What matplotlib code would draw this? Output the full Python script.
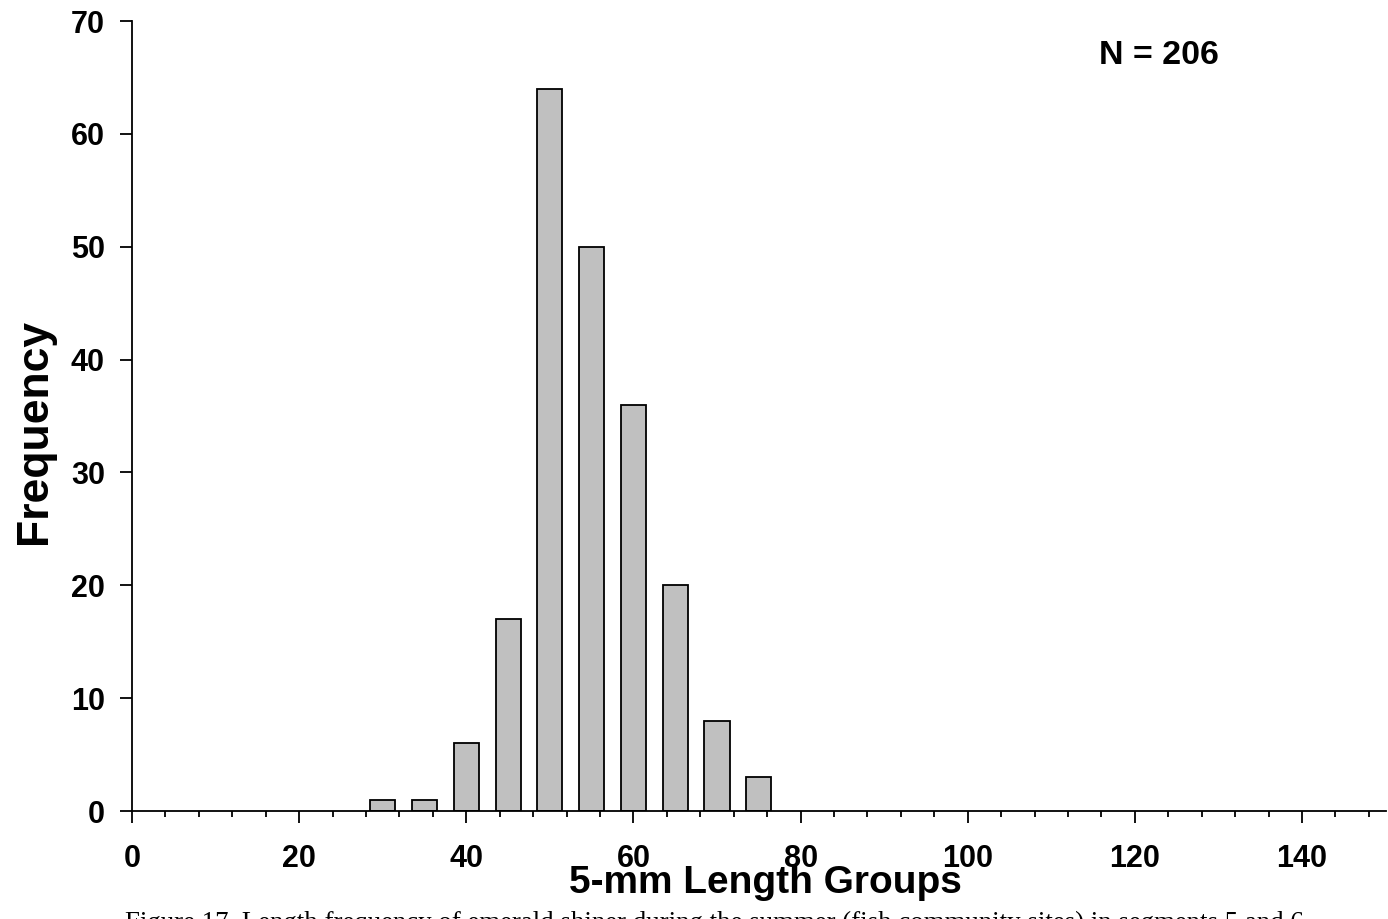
import matplotlib
matplotlib.use("Agg")
import matplotlib.pyplot as plt
from matplotlib.ticker import MultipleLocator

# 5-mm length groups (mm) and fish counts
length_groups = [30, 35, 40, 45, 50, 55, 60, 65, 70, 75]
frequency = [1, 1, 6, 17, 64, 50, 36, 20, 8, 3]
x_ticks = [0, 20, 40, 60, 80, 100, 120, 140]
y_ticks = [0, 10, 20, 30, 40, 50, 60, 70]
n_label = "N = 206"
caption = ("Figure 17. Length frequency of emerald shiner during the summer "
           "(fish community sites) in segments 5 and 6.")

plt.rcParams["font.family"] = ["Liberation Sans", "DejaVu Sans"]

fig = plt.figure(figsize=(13.88, 9.19), dpi=100)
ax = fig.add_axes([0.0951, 0.1175, 0.9032, 0.8596])

ax.bar(length_groups, frequency, width=3, color="#C0C0C0",
       edgecolor="black", linewidth=1.3, zorder=2)

ax.set_xlim(0, 150)
ax.set_ylim(0, 70)
ax.set_xticks(x_ticks)
ax.set_yticks(y_ticks)
ax.xaxis.set_minor_locator(MultipleLocator(4))

for side in ("top", "right"):
    ax.spines[side].set_visible(False)
for side in ("left", "bottom"):
    ax.spines[side].set_linewidth(1.3)
    ax.spines[side].set_zorder(3)

ax.tick_params(axis="x", which="major", direction="out", length=8.5,
               width=1.3, pad=15, labelsize=22)
ax.tick_params(axis="x", which="minor", direction="out", length=4.5,
               width=1.3)
ax.tick_params(axis="y", which="major", direction="out", length=8.5,
               width=1.3, pad=11, labelsize=22)
for lab in ax.get_xticklabels() + ax.get_yticklabels():
    lab.set_fontweight("bold")

fig.text(765 / 1388, 1 - 893 / 919, "5-mm Length Groups", ha="center",
         va="baseline", fontsize=28, fontweight="bold")
fig.text(35 / 1388, 1 - 431 / 919, "Frequency", ha="center", va="center",
         rotation=90, fontsize=32, fontweight="bold")
fig.text(1159 / 1388, 1 - 56 / 919, n_label, ha="center", va="center",
         fontsize=24.5, fontweight="bold")
fig.text(125 / 1388, 1 - 930 / 919, caption, ha="left", va="baseline",
         fontsize=19.4, family=["Liberation Serif", "DejaVu Serif"])

fig.savefig("out.png", dpi=100)
